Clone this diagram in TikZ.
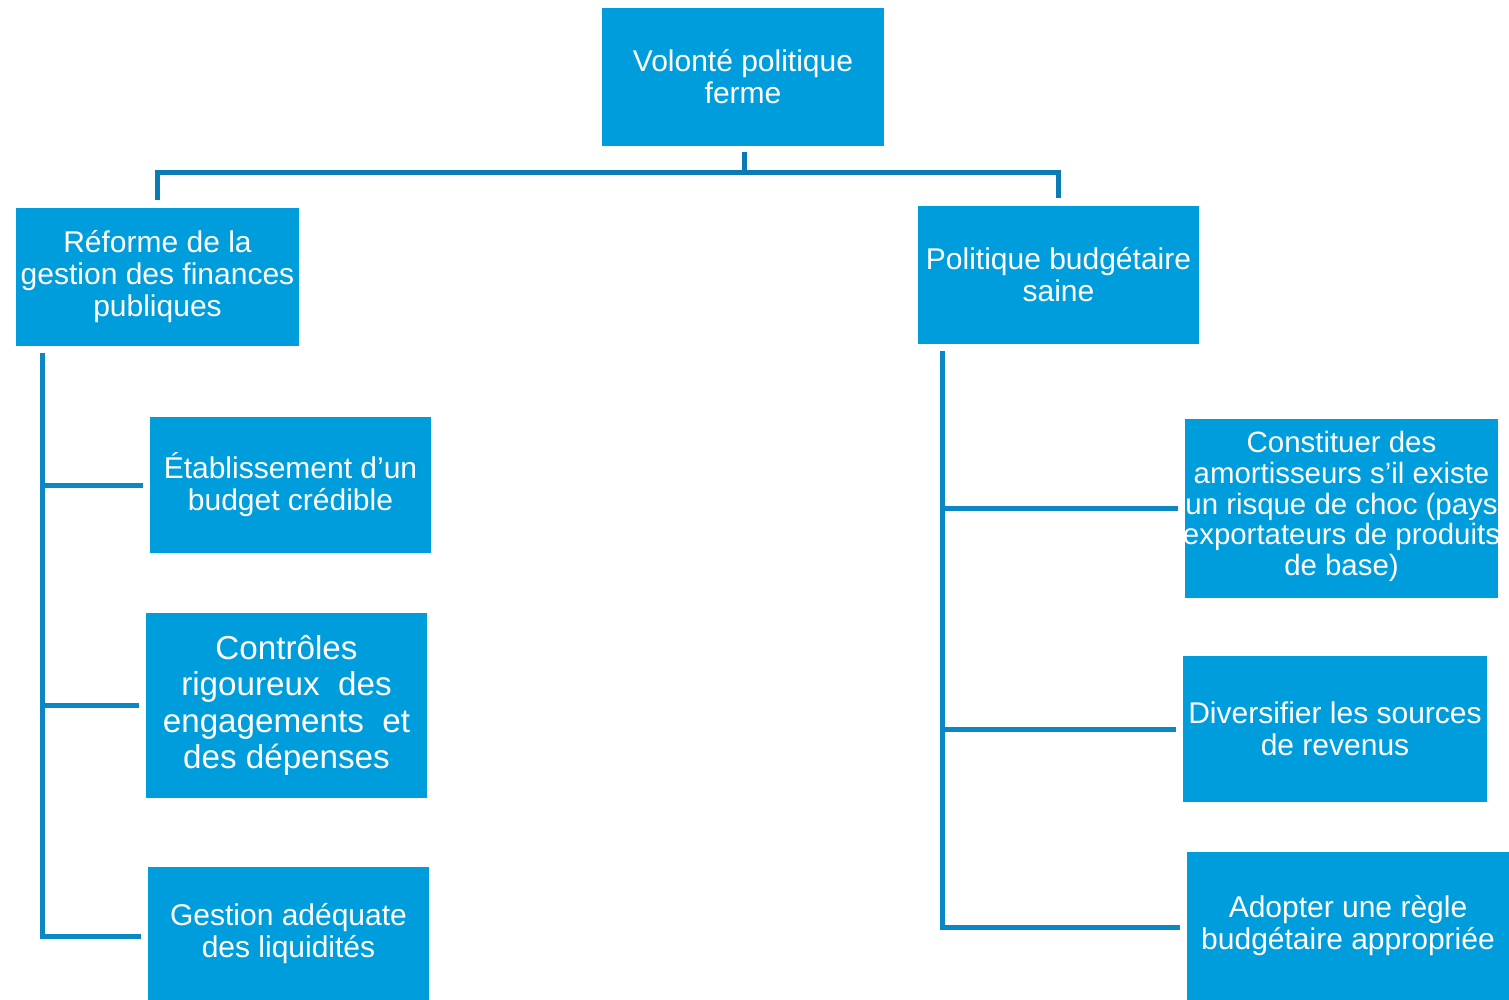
\documentclass[tikz,border=0pt]{standalone}
\usepackage{fontspec}
\setmainfont{Liberation Sans}
\usetikzlibrary{calc}
\definecolor{boxblue}{HTML}{009DDD}
\definecolor{topline}{HTML}{0A7BB5}
\definecolor{treeline}{HTML}{0B88C4}
\tikzset{
  bluebox/.style={fill=boxblue, draw=none, inner sep=0pt, align=center, text=white,
    font=\fontsize{15}{16}\selectfont},
  bigtext/.style={font=\fontsize{16.6}{18.2}\selectfont},
  tighttext/.style={inner sep=0pt, align=center, text=white, font=\fontsize{14.7}{15.3}\selectfont},
  conn/.style={draw=treeline, line width=2.5pt},
  topconn/.style={draw=topline, line width=2.5pt}
}
\newcommand{\mkbox}[7][]{% [style] name, x1,y1,x2,y2, text
  \node[bluebox, #1, minimum width={(#5-#3)*0.5pt}, minimum height={(#6-#4)*0.5pt}]
    (#2) at ({(#3+#5)/2},{(#4+#6)/2}) {#7};}
\begin{document}
\begin{tikzpicture}[x=0.5pt,y=-0.5pt]
\useasboundingbox (0,0) rectangle (1509,1000);
\fill[white] (0,0) rectangle (1509,1000);
% boxes
\mkbox{top}{602}{8}{884}{146}{Volonté politique\\ferme}
\mkbox{L1}{16}{208}{299}{346}{Réforme de la\\gestion des finances\\publiques}
\mkbox{R1}{918}{206}{1199}{344}{Politique budgétaire\\saine}
\mkbox{L2}{150}{417}{431}{553}{Établissement d’un\\budget crédible}
\mkbox[bigtext]{L3}{146}{613}{427}{798}{Contrôles\\rigoureux\ \ des\\engagements\ \ et\\des dépenses}
\mkbox{L4}{148}{867}{429}{1000}{Gestion adéquate\\des liquidités}
\mkbox{R2}{1185}{419}{1498}{598}{}
\node[tighttext] (R2t) at ($(R2.center)+(0,-2)$) {Constituer des\\amortisseurs s’il existe\\un risque de choc (pays\\exportateurs de produits\\de base)};
\mkbox{R3}{1183}{656}{1487}{802}{Diversifier les sources\\de revenus}
\mkbox{R4}{1187}{852}{1509}{1000}{Adopter une règle\\budgétaire appropriée}
% top connector
\coordinate (jT) at (744,173);
\draw[topconn] ($(top.south)+(1,6)$) -- (jT);
\draw[topconn] ($(L1.north)+(0,-8)$) |- (jT) -| ($(R1.north)+(0,-8)$);
% left tree
\coordinate (sL) at (42,353);
\coordinate (bL4) at ($(L4.west)+(-7,3)$);
\draw[conn] (sL) |- (bL4);
\draw[conn] (sL |- L2.west) -- ($(L2.west)+(-7,0)$);
\draw[conn] (sL |- L3.west) -- ($(L3.west)+(-7,0)$);
% right tree
\coordinate (sR) at (942,351);
\coordinate (bR4) at ($(R4.west)+(-7,1)$);
\draw[conn] (sR) |- (bR4);
\draw[conn] (sR |- R2.west) -- ($(R2.west)+(-7,0)$);
\draw[conn] (sR |- R3.west) -- ($(R3.west)+(-7,0)$);
\end{tikzpicture}
\end{document}
